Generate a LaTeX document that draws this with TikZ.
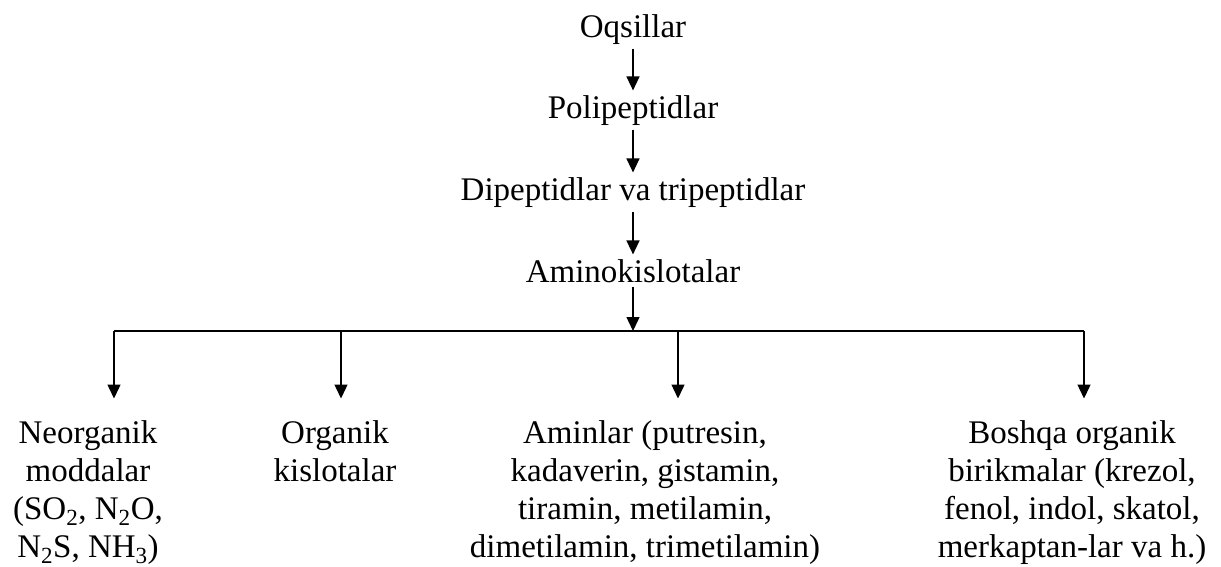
\documentclass[tikz,border=0pt]{standalone}
\usepackage{fontspec}
\setmainfont{Liberation Serif}
\usetikzlibrary{arrows.meta}

\begin{document}
\begin{tikzpicture}[x=1pt,y=-1pt,>={Triangle[length=14pt,width=13pt]},line width=1.4pt,
    lbl/.style={font=\fontsize{33}{38}\selectfont,inner sep=4pt,align=center}]
  \useasboundingbox (0,0) rectangle (1221,566);

  % sizes
  \def\cx{633}     % axis of the chain
  \def\busY{331}   % horizontal line
  \def\botY{415.5} % top of the lower labels

  % chain of products
  \node[lbl,anchor=base] (oqs)   at (\cx,37)  {Oqsillar};
  \node[lbl,anchor=base] (poli)  at (\cx,118) {Polipeptidlar};
  \node[lbl,anchor=base] (dipep) at (\cx,200) {Dipeptidlar va tripeptidlar};
  \node[lbl,anchor=base] (amino) at (\cx,282) {Aminokislotalar};

  \draw[->] (oqs) -- (poli);
  \draw[->] (poli) -- (dipep);
  \draw[->] (dipep) -- (amino);

  % bus
  \coordinate (b1) at (114,\busY);
  \coordinate (b2) at (341,\busY);
  \coordinate (b3) at (678,\busY);
  \coordinate (b4) at (1084,\busY);
  \draw[->] (amino) -- (amino |- b1);
  \draw (b1) -- (b4);

  % end products
  \node[lbl,anchor=north] (neorg)  at (88,\botY)   {Neorganik\\moddalar\\(SO\textsubscript{2}, N\textsubscript{2}O,\\N\textsubscript{2}S, NH\textsubscript{3})};
  \node[lbl,anchor=north] (orgk)   at (335,\botY)  {Organik\\kislotalar};
  \node[lbl,anchor=north] (amin)   at (645,\botY)  {Aminlar (putresin,\\kadaverin, gistamin,\\tiramin, metilamin,\\dimetilamin, trimetilamin)};
  \node[lbl,anchor=north] (boshqa) at (1072,\botY) {Boshqa organik\\birikmalar (krezol,\\fenol, indol, skatol,\\merkaptan-lar va h.)};

  \foreach \b/\n in {b1/neorg,b2/orgk,b3/amin,b4/boshqa}
    \draw[->,shorten >=17pt] (\b) -- (\b |- \n.north);
\end{tikzpicture}
\end{document}
